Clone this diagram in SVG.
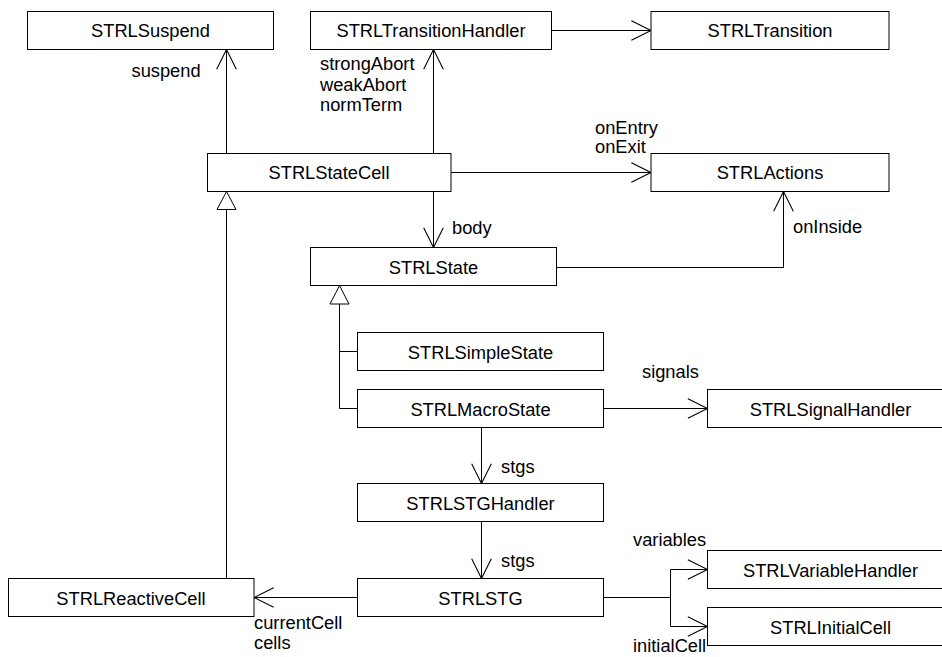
<svg xmlns="http://www.w3.org/2000/svg" width="942" height="657" viewBox="0 0 942 657">
  <style>
    .box { fill: #fff; stroke: #000; stroke-width: 1; }
    .name { font-family: "Liberation Sans", Arial, sans-serif; font-size: 18.3px; fill: #000; text-anchor: middle; }
    .role { font-family: "Liberation Sans", Arial, sans-serif; font-size: 18.3px; fill: #000; }
    .edge { fill: none; stroke: #000; stroke-width: 1; }
    .assoc { marker-end: url(#open); }
    .tri { fill: #fff; stroke: #000; stroke-width: 1; }
  </style>
  <defs>
    <marker id="open" markerUnits="userSpaceOnUse" markerWidth="24" markerHeight="24" viewBox="-20 -11 22 22" refX="0" refY="0" orient="auto" overflow="visible">
      <path d="M-18,-9 L0,0 L-18,9" fill="none" stroke="#000" stroke-width="1"/>
    </marker>
  </defs>
  <rect width="942" height="657" fill="#fff"/>

  <g id="connectors">
    <path class="edge assoc" d="M226.5 153.5 V49.5"/>
    <path class="edge assoc" d="M433.5 153.5 V49.5"/>
    <path class="edge assoc" d="M552 30.5 H651"/>
    <path class="edge assoc" d="M451 172.5 H651"/>
    <path class="edge assoc" d="M433.5 191.5 V247.5"/>
    <path class="edge assoc" d="M557 267.5 H783.5 V191.5"/>
    <!-- generalization: STRLReactiveCell to STRLStateCell -->
    <path class="edge" d="M226.5 578.5 V209.5"/>
    <polygon class="tri" points="226.5,191.5 217,209.5 236,209.5"/>
    <!-- generalization: simple and macro states to STRLState -->
    <path class="edge" d="M357.5 351.5 H339.5 M357.5 408.5 H339.5 V304"/>
    <polygon class="tri" points="339.5,285.5 330,304 349,304"/>
    <path class="edge assoc" d="M604 408.5 H707.5"/>
    <path class="edge assoc" d="M481.5 427.5 V483.5"/>
    <path class="edge assoc" d="M481.5 521.5 V578.5"/>
    <path class="edge assoc" d="M357.5 597.5 H254"/>
    <path class="edge" d="M604 597.5 H670.5 M670.5 569.5 V626.5"/>
    <path class="edge assoc" d="M670.5 569.5 H707.5"/>
    <path class="edge assoc" d="M670.5 626.5 H707.5"/>

    <text class="role" x="131.5" y="77">suspend</text>
    <text class="role" x="320" y="70">strongAbort</text>
    <text class="role" x="320" y="90.5">weakAbort</text>
    <text class="role" x="320" y="111">normTerm</text>
    <text class="role" x="595" y="134">onEntry</text>
    <text class="role" x="595" y="153">onExit</text>
    <text class="role" x="452" y="234">body</text>
    <text class="role" x="793" y="233">onInside</text>
    <text class="role" x="642" y="378">signals</text>
    <text class="role" x="501" y="473">stgs</text>
    <text class="role" x="501" y="567">stgs</text>
    <text class="role" x="254" y="629">currentCell</text>
    <text class="role" x="254" y="649">cells</text>
    <text class="role" x="633" y="546">variables</text>
    <text class="role" x="633" y="652">initialCell</text>
  </g>

  <g id="STRLSuspend"><rect class="box" x="27.5" y="11.5" width="246" height="38"/><text class="name" x="150.5" y="37">STRLSuspend</text></g>
  <g id="STRLTransitionHandler"><rect class="box" x="310.5" y="11.5" width="241" height="38"/><text class="name" x="431" y="37">STRLTransitionHandler</text></g>
  <g id="STRLTransition"><rect class="box" x="651" y="11.5" width="238" height="38"/><text class="name" x="770" y="37">STRLTransition</text></g>
  <g id="STRLStateCell"><rect class="box" x="207.5" y="153.5" width="243.5" height="38"/><text class="name" x="329" y="179">STRLStateCell</text></g>
  <g id="STRLActions"><rect class="box" x="651" y="153.5" width="238" height="38"/><text class="name" x="770" y="179">STRLActions</text></g>
  <g id="STRLState"><rect class="box" x="310.5" y="247.5" width="246" height="38"/><text class="name" x="433.5" y="273.5">STRLState</text></g>
  <g id="STRLSimpleState"><rect class="box" x="357.5" y="332.5" width="246" height="38"/><text class="name" x="480.5" y="358.5">STRLSimpleState</text></g>
  <g id="STRLMacroState"><rect class="box" x="357.5" y="389.5" width="246" height="38"/><text class="name" x="480.5" y="415.5">STRLMacroState</text></g>
  <g id="STRLSignalHandler"><rect class="box" x="707.5" y="389.5" width="246" height="38"/><text class="name" x="830.5" y="415.5">STRLSignalHandler</text></g>
  <g id="STRLSTGHandler"><rect class="box" x="357.5" y="483.5" width="246" height="38"/><text class="name" x="480.5" y="509.5">STRLSTGHandler</text></g>
  <g id="STRLSTG"><rect class="box" x="357.5" y="578.5" width="246" height="38"/><text class="name" x="480.5" y="604.5">STRLSTG</text></g>
  <g id="STRLReactiveCell"><rect class="box" x="8.5" y="578.5" width="245.5" height="38"/><text class="name" x="131" y="604.5">STRLReactiveCell</text></g>
  <g id="STRLVariableHandler"><rect class="box" x="707.5" y="550.5" width="246" height="38"/><text class="name" x="830.5" y="576.5">STRLVariableHandler</text></g>
  <g id="STRLInitialCell"><rect class="box" x="707.5" y="607.5" width="246" height="38"/><text class="name" x="830.5" y="633.5">STRLInitialCell</text></g>
</svg>
